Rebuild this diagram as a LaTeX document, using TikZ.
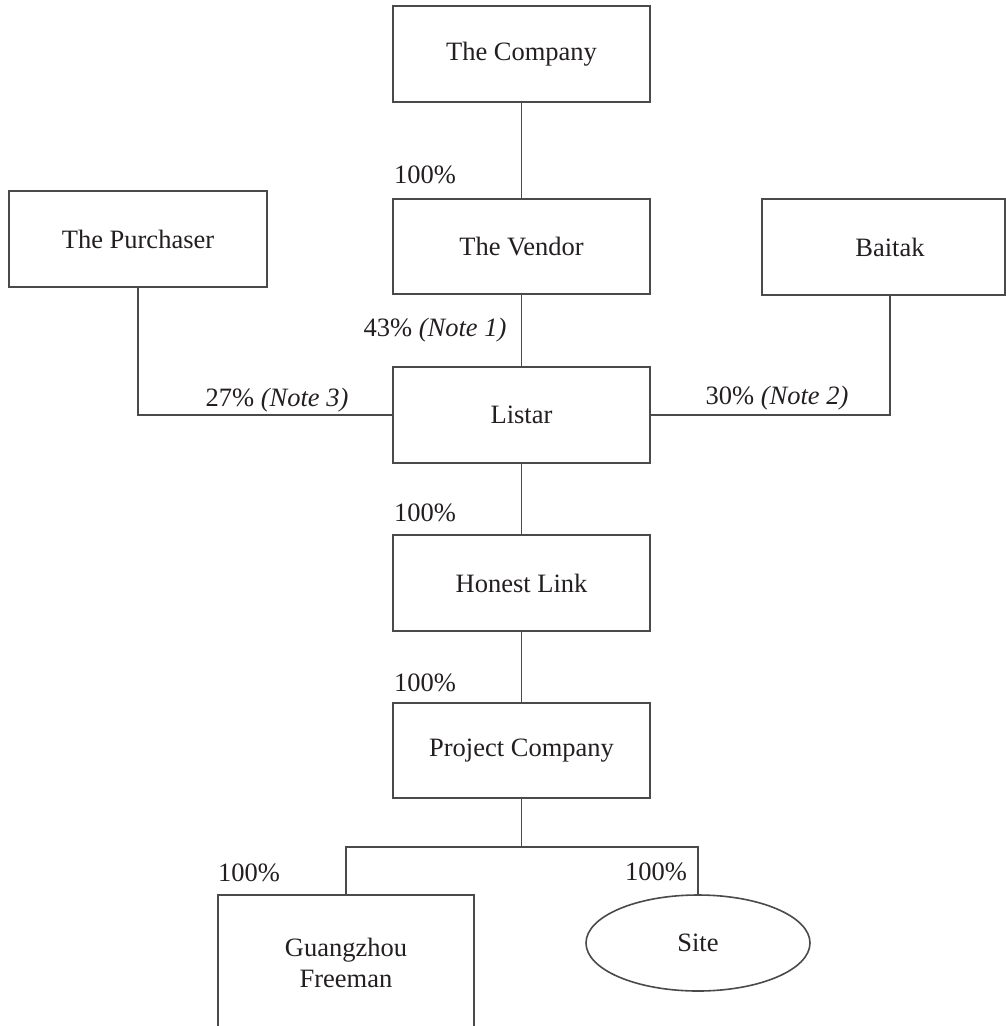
\documentclass[tikz,border=0pt]{standalone}
\usepackage{fontspec}
\setmainfont{Liberation Serif}
\usetikzlibrary{shapes.geometric}
\definecolor{inkline}{HTML}{4A4A4A}
\definecolor{inktext}{HTML}{231F20}
\begin{document}
\begin{tikzpicture}[x=1pt,y=-1pt,
  every node/.style={font=\fontsize{26.5}{31}\selectfont, text=inktext},
  box/.style={draw=inkline, line width=1.6pt, rectangle, inner sep=0pt,
    minimum width=257pt, minimum height=96pt, align=center},
  oval/.style={draw=inkline, line width=1.6pt, ellipse, inner sep=0pt,
    minimum width=224pt, minimum height=96pt},
  conn/.style={draw=inkline, line width=1.6pt},
  pct/.style={inner sep=0pt}]
\useasboundingbox (0,0) rectangle (1006,1026);
% boxes
\node[box] (company) at (521.5,54) {The Company};
\node[box, minimum height=95pt] (vendor) at (521.5,246.5) {The Vendor};
\node[box] (listar) at (521.5,415) {Listar};
\node[box] (honest) at (521.5,583) {Honest Link};
\node[box, minimum height=95pt] (project) at (521.5,750.5) {Project Company};
\node[box, minimum width=258pt] (purchaser) at (138,239) {The Purchaser};
\node[box, minimum width=243pt] (baitak) at (883.5,247) {\hspace*{13pt}Baitak};
\node[box, minimum width=256pt, minimum height=136pt] (guangzhou) at (346,963) {Guangzhou\\Freeman};
\node[oval] (site) at (698,943) {Site};
% connectors
\draw[conn] (company) -- (vendor);
\draw[conn] (vendor) -- (listar);
\draw[conn] (purchaser.south) |- (listar.west);
\draw[conn] (listar.east) -| ([xshift=6.5pt]baitak.south);
\draw[conn] (listar) -- (honest);
\draw[conn] (honest) -- (project);
\coordinate (split) at (521.5,847);
\draw[conn] (project.south) -- (split);
\draw[conn] (guangzhou.north) |- (split) -| (site.north);
% labels
\node[pct] (l1) at (425,175) {100\%};
\node[pct] (l2) at (435,330) {43\% \textit{(Note 1)}};
\node[pct] (l3) at (277,400) {27\% \textit{(Note 3)}};
\node[pct] (l4) at (777,398) {30\% \textit{(Note 2)}};
\node[pct] (l5) at (425,513) {100\%};
\node[pct] (l6) at (425,683) {100\%};
\node[pct] (l7) at (249,873) {100\%};
\node[pct] (l8) at (656,872) {100\%};
\end{tikzpicture}
\end{document}
